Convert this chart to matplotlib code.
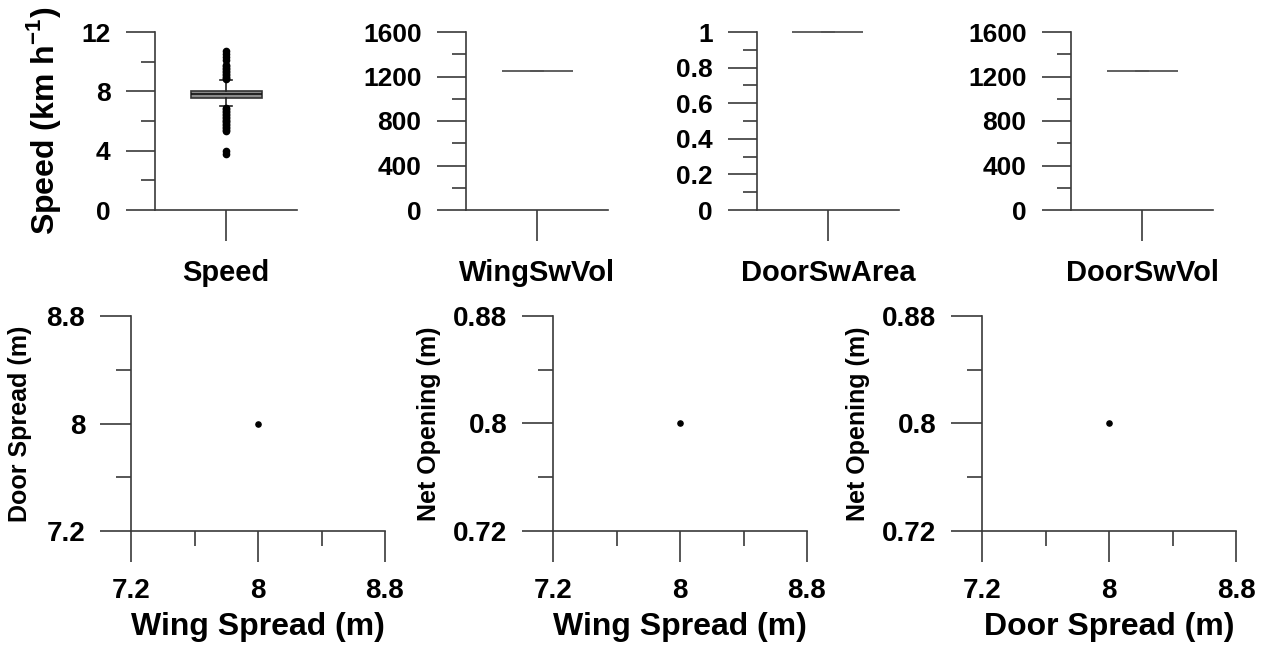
import matplotlib
matplotlib.use("Agg")
import matplotlib.pyplot as plt
from matplotlib.ticker import MultipleLocator, FixedLocator, FormatStrFormatter

plt.rcParams['font.family'] = ['Liberation Sans', 'DejaVu Sans']
plt.rcParams['font.weight'] = 'bold'
plt.rcParams['mathtext.fontset'] = 'custom'
plt.rcParams['mathtext.rm'] = 'Liberation Sans'
plt.rcParams['mathtext.bf'] = 'Liberation Sans:bold'
plt.rcParams['axes.unicode_minus'] = False

# --- data ---
box_names = ["Speed", "WingSwVol", "DoorSwArea", "DoorSwVol"]
box_q1 = [7.55, 1250, 1.0, 1250]
box_med = [7.8, 1250, 1.0, 1250]
box_q3 = [8.05, 1250, 1.0, 1250]
box_whislo = [7.0, 1250, 1.0, 1250]
box_whishi = [8.75, 1250, 1.0, 1250]
speed_fliers_hi = [8.8, 8.9, 9.0, 9.1, 9.2, 9.3, 9.4, 9.5, 9.6, 9.7, 9.8, 10.1, 10.3, 10.5, 10.7]
speed_fliers_lo = [6.9, 6.8, 6.7, 6.6, 6.5, 6.4, 6.3, 6.2, 6.1, 6.0, 5.9, 5.8, 5.7, 5.6, 5.5, 5.4, 5.3, 4.0, 3.8]
box_ylims = [(0, 12), (0, 1600), (0, 1), (0, 1600)]
box_major = [4, 400, 0.2, 400]
box_minor = [2, 200, 0.1, 200]
box_ylabel = ["Speed (km h$^{\\mathregular{-1}}$)", "", "", ""]

sc_x = [8.0, 8.0, 8.0]
sc_y = [8.0, 0.8, 0.8]
sc_xlabel = ["Wing Spread (m)", "Wing Spread (m)", "Door Spread (m)"]
sc_ylabel = ["Door Spread (m)", "Net Opening (m)", "Net Opening (m)"]
sc_xlim = [(7.2, 8.8), (7.2, 8.8), (7.2, 8.8)]
sc_ylim = [(7.2, 8.8), (0.72, 0.88), (0.72, 0.88)]
sc_yticks = [[7.2, 8.0, 8.8], [0.72, 0.8, 0.88], [0.72, 0.8, 0.88]]
sc_yticklabels = [["7.2", "8", "8.8"], ["0.72", "0.8", "0.88"], ["0.72", "0.8", "0.88"]]
sc_xticks = [7.2, 8.0, 8.8]
sc_xticklabels = ["7.2", "8", "8.8"]

W, H = 1270, 648
fig = plt.figure(figsize=(W / 100, H / 100), dpi=100)
axc = "#3a3a3a"


def style(ax):
    for s in ["top", "right"]:
        ax.spines[s].set_visible(False)
    for s in ["left", "bottom"]:
        ax.spines[s].set_color(axc)
        ax.spines[s].set_linewidth(1.2)
    ax.tick_params(which="both", direction="out", color=axc, width=1.2)


# top row: box plots
top_left = [155, 466, 757, 1071]
for i, name in enumerate(box_names):
    ax = fig.add_axes([top_left[i] / W, (H - 210) / H, 142 / W, 178 / H])
    style(ax)
    fliers = speed_fliers_hi + speed_fliers_lo if i == 0 else []
    stats = [dict(med=box_med[i], q1=box_q1[i], q3=box_q3[i],
                  whislo=box_whislo[i], whishi=box_whishi[i], fliers=fliers)]
    ax.bxp(stats, positions=[1], widths=0.5, patch_artist=True,
           boxprops=dict(facecolor="#8c8c8c", edgecolor="#333333", linewidth=1.2),
           medianprops=dict(color="#111111", linewidth=1.2),
           whiskerprops=dict(color="#222222", linewidth=1.2),
           capprops=dict(color="#222222", linewidth=1.2),
           capwidths=0.08,
           flierprops=dict(marker="o", markersize=4.5, markerfacecolor="black",
                           markeredgecolor="black"))
    if i > 0:
        # degenerate boxes: all stats equal, show as a grey line with darker centre
        for art in ax.patches + ax.lines:
            art.set_clip_on(False)
        for p in ax.patches:
            p.set_edgecolor("#a0a0a0")
        for ln in ax.lines:
            ln.set_color("#555555")
    ax.set_xlim(0.5, 1.5)
    ax.set_ylim(*box_ylims[i])
    ax.yaxis.set_major_locator(MultipleLocator(box_major[i]))
    ax.yaxis.set_minor_locator(MultipleLocator(box_minor[i]))
    ax.yaxis.set_major_formatter(FormatStrFormatter('%g'))
    ax.set_xticks([1])
    ax.set_xticklabels([name], fontsize=21, fontweight="bold")
    ax.tick_params(axis="x", length=22, pad=13)
    ax.tick_params(axis="y", which="major", length=21, pad=11, labelsize=19)
    ax.tick_params(axis="y", which="minor", length=10)
    if box_ylabel[i]:
        ax.set_ylabel(box_ylabel[i], fontsize=23, fontweight="bold")
        ax.yaxis.set_label_coords(-0.65, 0.5)

# bottom row: scatter plots
bot_left = [131, 553, 982]
for i in range(3):
    ax = fig.add_axes([bot_left[i] / W, (H - 531) / H, 254 / W, 215 / H])
    style(ax)
    ax.scatter([sc_x[i]], [sc_y[i]], s=14, color="black", zorder=3)
    ax.set_xlim(*sc_xlim[i])
    ax.set_ylim(*sc_ylim[i])
    ax.set_xticks(sc_xticks)
    ax.set_xticklabels(sc_xticklabels)
    ax.set_yticks(sc_yticks[i])
    ax.set_yticklabels(sc_yticklabels[i])
    ax.xaxis.set_minor_locator(FixedLocator([7.6, 8.4]))
    yt = sc_yticks[i]
    ax.yaxis.set_minor_locator(FixedLocator([(yt[0] + yt[1]) / 2, (yt[1] + yt[2]) / 2]))
    ax.tick_params(which="major", length=22, labelsize=20)
    ax.tick_params(which="minor", length=11)
    ax.tick_params(axis="x", which="major", pad=12)
    ax.tick_params(axis="y", which="major", pad=11)
    ax.set_xlabel(sc_xlabel[i], fontsize=23, fontweight="bold")
    ax.xaxis.set_label_coords(0.5, -0.375)
    ax.xaxis.label.set_va("top")
    ax.set_ylabel(sc_ylabel[i], fontsize=18, fontweight="bold")
    ax.yaxis.set_label_coords(-0.39 if i == 0 else -0.44, 0.5)

fig.savefig("out.png", dpi=100)
